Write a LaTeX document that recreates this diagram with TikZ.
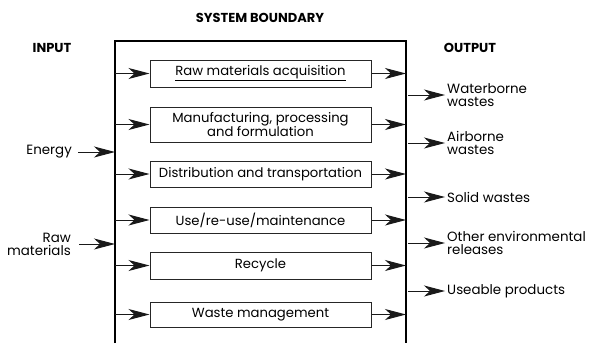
\documentclass[tikz,border=0pt]{standalone}
\usepackage{fontspec}
\setmainfont{Poppins}
\usetikzlibrary{arrows.meta}
\tikzset{
  bigtip/.tip={Stealth[length=21pt,width=11pt,inset=6pt,fill=black!90]},
  arr/.style={draw=black!90, line width=1pt, -bigtip},
  proc/.style={draw=black!85, line width=1pt, minimum width=221pt, inner sep=1pt, align=center, font=\fontsize{13.2}{13}\selectfont},
  lbl/.style={font=\fontsize{13.4}{13}\selectfont, inner sep=0pt, align=left},
  head/.style={font=\bfseries\fontsize{13}{14}\selectfont, inner sep=0pt}
}
\begin{document}
\begin{tikzpicture}[x=1pt,y=-1pt]
\useasboundingbox (0,0) rectangle (591,343);
\draw[line width=1.3pt] (115,343) -- (115,41) -- (406,41) -- (406,343);
\coordinate (L) at (115,0);
\coordinate (R) at (406,0);
\node[head] (sb) at (260,18) {SYSTEM BOUNDARY};
\node[head] (in) at (52,48) {INPUT};
\node[head] (out) at (470,48) {OUTPUT};
\node[proc, minimum height=27pt] (b1) at (260.5,73.5) {\underline{Raw materials acquisition}};
\node[proc, minimum height=35pt] (b2) at (260.5,124.5) {Manufacturing, processing\\and formulation};
\node[proc, minimum height=26pt] (b3) at (260.5,174) {Distribution and transportation};
\node[proc, minimum height=26pt] (b4) at (260.5,220) {Use/re-use/maintenance};
\node[proc, minimum height=27pt] (b5) at (260.5,265.5) {Recycle};
\node[proc, minimum height=25pt] (b6) at (260.5,314.5) {Waste management};
\foreach \b in {b1,b2,b3,b4,b5,b6}{
  \draw[arr] (\b.west -| L) -- (\b.west);
  \draw[arr] (\b.east) -- (\b.east -| R);
}
\node[lbl, anchor=east] (energy) at (72,152) {Energy};
\node[lbl, anchor=east, align=right] (raw) at (71,244) {Raw\\materials};
\draw[arr] ([xshift=6pt]energy.east) -- (energy.east -| L);
\draw[arr] ([xshift=8pt]raw.east) -- (raw.east -| L);
\node[lbl, anchor=west] (o1) at (447,95) {Waterborne\\wastes};
\node[lbl, anchor=west] (o2) at (447,143) {Airborne\\wastes};
\node[lbl, anchor=west] (o3) at (447,197) {Solid wastes};
\node[lbl, anchor=west] (o4) at (447,243) {Other environmental\\releases};
\node[lbl, anchor=west] (o5) at (447,291) {Useable products};
\foreach \o in {o1,o2,o3,o4,o5}{
  \draw[arr] ([xshift=2pt]\o.west -| R) -- ([xshift=-2pt]\o.west);
}
\end{tikzpicture}
\end{document}
